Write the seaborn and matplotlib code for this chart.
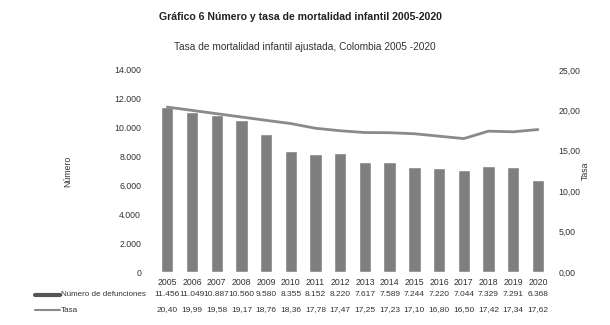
import matplotlib
matplotlib.use("Agg")
import matplotlib.pyplot as plt
import matplotlib.transforms as mtransforms
from matplotlib.ticker import FuncFormatter
import seaborn as sns
import pandas as pd

# Data: infant mortality in Colombia
years = ["2005", "2006", "2007", "2008", "2009", "2010", "2011", "2012",
         "2013", "2014", "2015", "2016", "2017", "2018", "2019", "2020"]
defunciones = [11456, 11049, 10887, 10560, 9580, 8355, 8152, 8220,
               7617, 7589, 7244, 7220, 7044, 7329, 7291, 6368]
tasa = [20.40, 19.99, 19.58, 19.17, 18.76, 18.36, 17.78, 17.47,
        17.25, 17.23, 17.10, 16.80, 16.50, 17.42, 17.34, 17.62]

sns.set_theme(style="white")
plt.rcParams["font.family"] = ["Liberation Sans", "DejaVu Sans"]

bar_color = "#7f7f7f"
line_color = "#8a8a8a"
text_color = "#333333"

df = pd.DataFrame({"year": years, "defunciones": defunciones,
                   "tasa": tasa, "pos": range(len(years))})

fig = plt.figure(figsize=(6.1, 3.25), dpi=100)
ax = fig.add_axes([0.254, 0.163, 0.648, 0.622])

sns.barplot(data=df, x="year", y="defunciones", color=bar_color,
            width=0.5, saturation=1, ax=ax)
ax.set_ylim(0, 14000)
ax.set_xlim(-0.5, 15.5)
ax.set_yticks(range(0, 14001, 2000))
ax.yaxis.set_major_formatter(FuncFormatter(lambda v, p: f"{int(v):,}".replace(",", ".")))
ax.tick_params(axis="y", length=0, pad=10, labelsize=6.3, labelcolor=text_color)
ax.tick_params(axis="x", length=0, pad=4, labelsize=6.3, labelcolor=text_color)
ax.set_xlabel("")
ax.set_ylabel("Número", fontsize=6.3, color=text_color, labelpad=30)

ax2 = ax.twinx()
sns.lineplot(data=df, x="pos", y="tasa", color=line_color, linewidth=2, ax=ax2)
ax2.set_ylim(0, 25)
ax2.set_xlim(-0.5, 15.5)
ax2.set_yticks([0, 5, 10, 15, 20, 25])
ax2.yaxis.set_major_formatter(FuncFormatter(lambda v, p: f"{v:.2f}".replace(".", ",")))
ax2.tick_params(axis="y", length=0, pad=6, labelsize=6.3, labelcolor=text_color)
ax2.set_ylabel("Tasa", fontsize=6.3, color=text_color, labelpad=0)

for a in (ax, ax2):
    for s in a.spines.values():
        s.set_visible(False)

# Data table under the chart
trans = mtransforms.blended_transform_factory(ax.transData, fig.transFigure)
y_num = 1 - 295 / 325
y_tasa = 1 - 310 / 325
for i, (n, t) in enumerate(zip(defunciones, tasa)):
    ax.text(i, y_num, f"{n:,}".replace(",", "."), transform=trans, ha="center",
            va="center", fontsize=6.0, color=text_color)
    ax.text(i, y_tasa, f"{t:.2f}".replace(".", ","), transform=trans, ha="center",
            va="center", fontsize=6.0, color=text_color)

fig.add_artist(plt.Line2D([35 / 610, 60 / 610], [y_num, y_num], color="#555555",
                          linewidth=3, transform=fig.transFigure))
fig.add_artist(plt.Line2D([35 / 610, 60 / 610], [y_tasa, y_tasa], color=line_color,
                          linewidth=1.5, transform=fig.transFigure))
fig.text(61 / 610, y_num, "Número de defunciones", ha="left", va="center",
         fontsize=5.8, color=text_color)
fig.text(61 / 610, y_tasa, "Tasa", ha="left", va="center",
         fontsize=5.8, color=text_color)

fig.text(0.492, 1 - 17 / 325, "Gráfico 6 Número y tasa de mortalidad infantil 2005-2020",
         ha="center", va="center", fontsize=7.6, fontweight="bold", color="#222222")
fig.text(0.5, 1 - 47 / 325, "Tasa de mortalidad infantil ajustada, Colombia 2005 -2020",
         ha="center", va="center", fontsize=7.3, color=text_color)

fig.savefig("out.png", dpi=100, facecolor="white")
